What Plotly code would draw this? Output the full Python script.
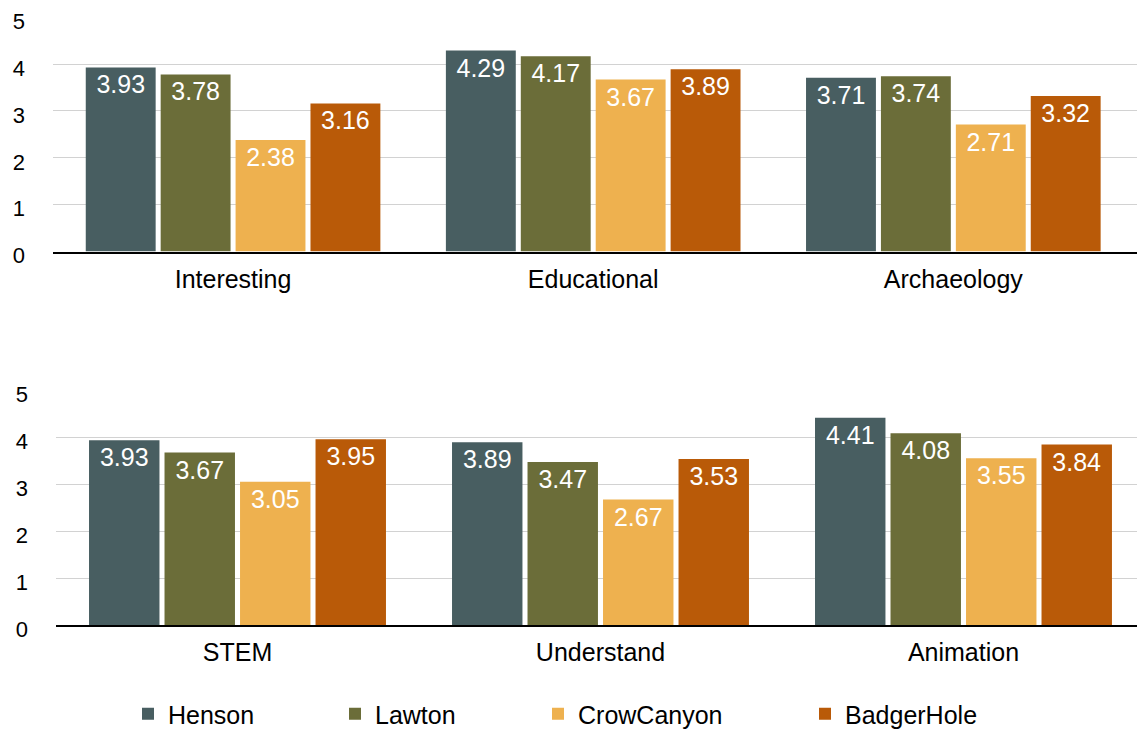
import plotly.graph_objects as go

# ---- data ----
top_categories = ["Interesting", "Educational", "Archaeology"]
bottom_categories = ["STEM", "Understand", "Animation"]
series_names = ["Henson", "Lawton", "CrowCanyon", "BadgerHole"]

henson_top = [3.93, 4.29, 3.71]
lawton_top = [3.78, 4.17, 3.74]
crowcanyon_top = [2.38, 3.67, 2.71]
badgerhole_top = [3.16, 3.89, 3.32]

henson_bottom = [3.93, 3.89, 4.41]
lawton_bottom = [3.67, 3.47, 4.08]
crowcanyon_bottom = [3.05, 2.67, 3.55]
badgerhole_bottom = [3.95, 3.53, 3.84]

y_ticks = [0, 1, 2, 3, 4, 5]

# ---- styling ----
colors = ["#485e61", "#6b6d39", "#eeb14f", "#b95a08"]
FONT = "Liberation Sans, Arial, Helvetica, sans-serif"
W, H = 1137, 729

top_values = [henson_top, lawton_top, crowcanyon_top, badgerhole_top]
bottom_values = [henson_bottom, lawton_bottom, crowcanyon_bottom, badgerhole_bottom]
legend_ids = ["legend", "legend2", "legend3", "legend4"]

fig = go.Figure()
for i, name in enumerate(series_names):
    fig.add_trace(go.Bar(
        x=top_categories, y=top_values[i], name=name,
        marker=dict(color=colors[i], line=dict(width=0)),
        text=[f"{v:.2f}" for v in top_values[i]],
        textposition="inside", insidetextanchor="end", textangle=0,
        textfont=dict(color="white", size=25, family=FONT),
        xaxis="x", yaxis="y", legend=legend_ids[i], showlegend=True,
        hoverinfo="skip",
    ))
for i, name in enumerate(series_names):
    fig.add_trace(go.Bar(
        x=bottom_categories, y=bottom_values[i], name=name,
        marker=dict(color=colors[i], line=dict(width=0)),
        text=[f"{v:.2f}" for v in bottom_values[i]],
        textposition="inside", insidetextanchor="end", textangle=0,
        textfont=dict(color="white", size=25, family=FONT),
        xaxis="x2", yaxis="y2", showlegend=False,
        hoverinfo="skip",
    ))

axis_common_x = dict(
    showline=True, linecolor="black", linewidth=2, ticks="",
    tickfont=dict(size=25, family=FONT, color="black"),
    showgrid=False, zeroline=False, fixedrange=True, ticklabelstandoff=4,
)
axis_common_y = dict(
    range=[0, 5], tickvals=y_ticks, showgrid=True, gridcolor="#d2d2d2",
    gridwidth=1, zeroline=False, showline=False, ticks="",
    tickfont=dict(size=22, family=FONT, color="black"),
    ticklabelstandoff=27, ticklabelshift=4, fixedrange=True,
)

legend_text_x = [173, 380, 583, 850]
legend_layout = {}
for i, lid in enumerate(legend_ids):
    legend_layout[lid] = dict(
        x=(legend_text_x[i] - 45) / W, xanchor="left",
        y=1 - 714 / H, yanchor="middle", orientation="h",
        font=dict(size=25, family=FONT, color="black"),
        bgcolor="rgba(0,0,0,0)", borderwidth=0,
    )

fig.update_layout(
    width=W, height=H,
    margin=dict(l=0, r=0, t=0, b=0, autoexpand=False),
    paper_bgcolor="white", plot_bgcolor="white",
    barmode="group", bargap=0.168, bargroupgap=0.067,
    font=dict(family=FONT, color="black"),
    xaxis=dict(domain=[53 / W, 1], range=[-0.5, 2.51], anchor="y", **axis_common_x),
    yaxis=dict(domain=[1 - 251.5 / H, 1 - 17.3 / H], anchor="x", **axis_common_y),
    xaxis2=dict(domain=[56 / W, 1], range=[-0.5, 2.478], anchor="y2", **axis_common_x),
    yaxis2=dict(domain=[1 - 625 / H, 1 - 390 / H], anchor="x2", **axis_common_y),
    uniformtext=dict(minsize=25, mode="show"),
    **legend_layout,
)

fig.write_html("out.html")
